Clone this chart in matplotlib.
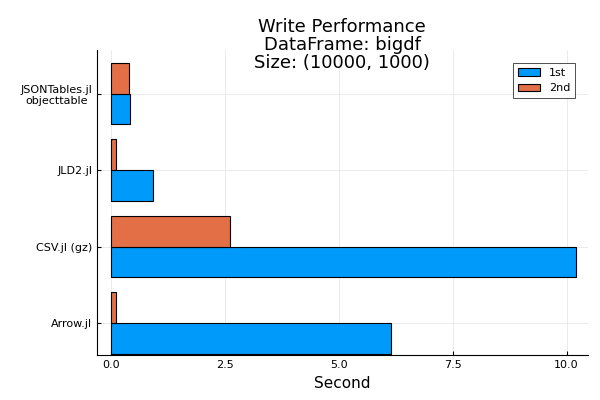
import matplotlib
matplotlib.use("Agg")
import matplotlib.pyplot as plt
import numpy as np

categories = ["Arrow.jl", "CSV.jl (gz)", "JLD2.jl", "JSONTables.jl\nobjecttable"]
first = [6.15, 10.2, 0.92, 0.42]
second = [0.10, 2.60, 0.10, 0.38]

fig = plt.figure(figsize=(6, 4), dpi=100)
ax = fig.add_axes([0.162, 0.112, 0.818, 0.763])
y = np.arange(1, len(categories) + 1)
h = 0.4
ax.barh(y - h/2, first, height=h, color="#009AFA", edgecolor="black", linewidth=0.8, label="1st", zorder=3)
ax.barh(y + h/2, second, height=h, color="#E26F46", edgecolor="black", linewidth=0.8, label="2nd", zorder=3)
ax.set_yticks(y)
ax.set_yticklabels(categories, fontsize=8, multialignment="center")
ax.set_xticks([0, 2.5, 5, 7.5, 10])
ax.set_xticklabels(["0.0", "2.5", "5.0", "7.5", "10.0"], fontsize=8)
ax.set_xlim(-0.31, 10.47)
ax.set_ylim(0.58, 4.57)
ax.grid(True, color="#e8e8e8", linewidth=0.6, zorder=0)
for s in ["top", "right"]:
    ax.spines[s].set_visible(False)
ax.tick_params(length=3, direction="in")
ax.set_xlabel("Second", fontsize=11)
fig.text(0.57, 0.955, "Write Performance\nDataFrame: bigdf\nSize: (10000, 1000)",
         fontsize=13, linespacing=1.0, ha="center", va="top")
leg = ax.legend(loc="upper right", fontsize=8, fancybox=False, edgecolor="black", borderaxespad=1.2)
leg.get_frame().set_linewidth(0.6)
fig.savefig("out.png", dpi=100)
